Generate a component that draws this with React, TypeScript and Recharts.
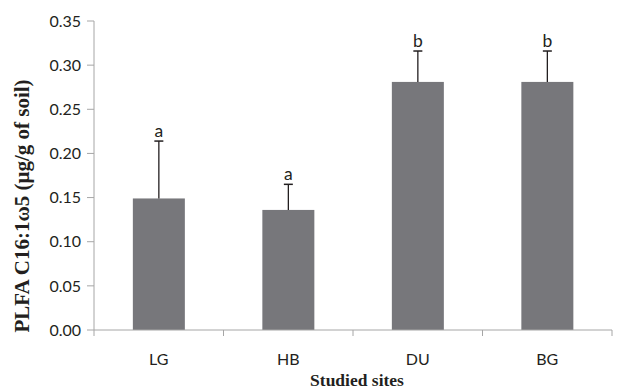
import React from 'react';
import { BarChart, Bar, XAxis, YAxis } from 'recharts';

const sites = ['LG', 'HB', 'DU', 'BG'];
const means = [0.149, 0.136, 0.281, 0.281];
const errors = [0.065, 0.029, 0.035, 0.035];
const letters = ['a', 'a', 'b', 'b'];
const yTicks = [0, 0.05, 0.1, 0.15, 0.2, 0.25, 0.3, 0.35];
const boundaryTicks = [0, 1, 2, 3, 4];

const data = sites.map((site, i) => ({
  site,
  mean: means[i],
  err: errors[i],
  letter: letters[i],
  pos: i + 0.5,
}));

const BAR_COLOR = '#77777b';
const AXIS_COLOR = '#a6a6a6';
const TEXT_COLOR = '#231f20';
const SANS = 'Lato, "Open Sans", sans-serif';
const SERIF = '"Liberation Serif", "DejaVu Serif", serif';

// bar + upward error whisker + significance letter
const BarWithError = (props: any) => {
  const { x, y, width, height, payload } = props;
  const pxPerUnit = height / payload.mean;
  const errTop = y - payload.err * pxPerUnit;
  const cx = x + width / 2;
  return (
    <g>
      <rect x={x} y={y} width={width} height={height} fill={BAR_COLOR} />
      <line x1={cx} y1={y} x2={cx} y2={errTop} stroke={TEXT_COLOR} strokeWidth={1.3} />
      <line x1={cx - 4.5} y1={errTop} x2={cx + 4.5} y2={errTop} stroke={TEXT_COLOR} strokeWidth={1.5} />
      <text x={cx} y={errTop - 4} textAnchor="middle" fontFamily={SANS} fontSize={17.5} fill={TEXT_COLOR}>
        {payload.letter}
      </text>
    </g>
  );
};

const YLabel = () => (
  <text
    x={22}
    y={206}
    transform="rotate(-90 22 206)"
    textAnchor="middle"
    dominantBaseline="central"
    fontFamily={SERIF}
    fontWeight="bold"
    fontSize={21}
    fill={TEXT_COLOR}
  >
    PLFA C16:1ω5 (μg/g of soil)
  </text>
);

const XLabel = () => (
  <text x={357} y={386} textAnchor="middle" fontFamily={SERIF} fontWeight="bold" fontSize={17.5} fill={TEXT_COLOR}>
    Studied sites
  </text>
);

export default function App() {
  return (
    <div style={{ position: 'absolute', left: 0, top: 0, width: 631, height: 390, background: '#fff' }}>
      <BarChart
        width={631}
        height={390}
        data={data}
        margin={{ top: 21, right: 19, left: 0, bottom: 0 }}
        barCategoryGap="30%"
      >
        <XAxis
          dataKey="site"
          xAxisId="b"
          axisLine={false}
          tickLine={false}
          tickMargin={17}
          tick={{ fill: TEXT_COLOR, fontFamily: SANS, fontSize: 16 }}
          height={59}
          label={<XLabel />}
        />
        <XAxis
          xAxisId="a"
          dataKey="pos"
          type="number"
          domain={[0, 4]}
          ticks={boundaryTicks}
          tickFormatter={() => ''}
          height={1}
          stroke={AXIS_COLOR}
          tickSize={6}
          allowDataOverflow
        />
        <YAxis
          domain={[0, 0.35]}
          ticks={yTicks}
          tickFormatter={(v: number) => v.toFixed(2)}
          width={94}
          stroke={AXIS_COLOR}
          tickSize={7}
          tickMargin={6}
          tick={{ fill: TEXT_COLOR, fontFamily: SANS, fontSize: 16 }}
          label={<YLabel />}
        />
        <Bar dataKey="mean" xAxisId="b" fill={BAR_COLOR} shape={<BarWithError />} isAnimationActive={false} />
      </BarChart>
    </div>
  );
}
